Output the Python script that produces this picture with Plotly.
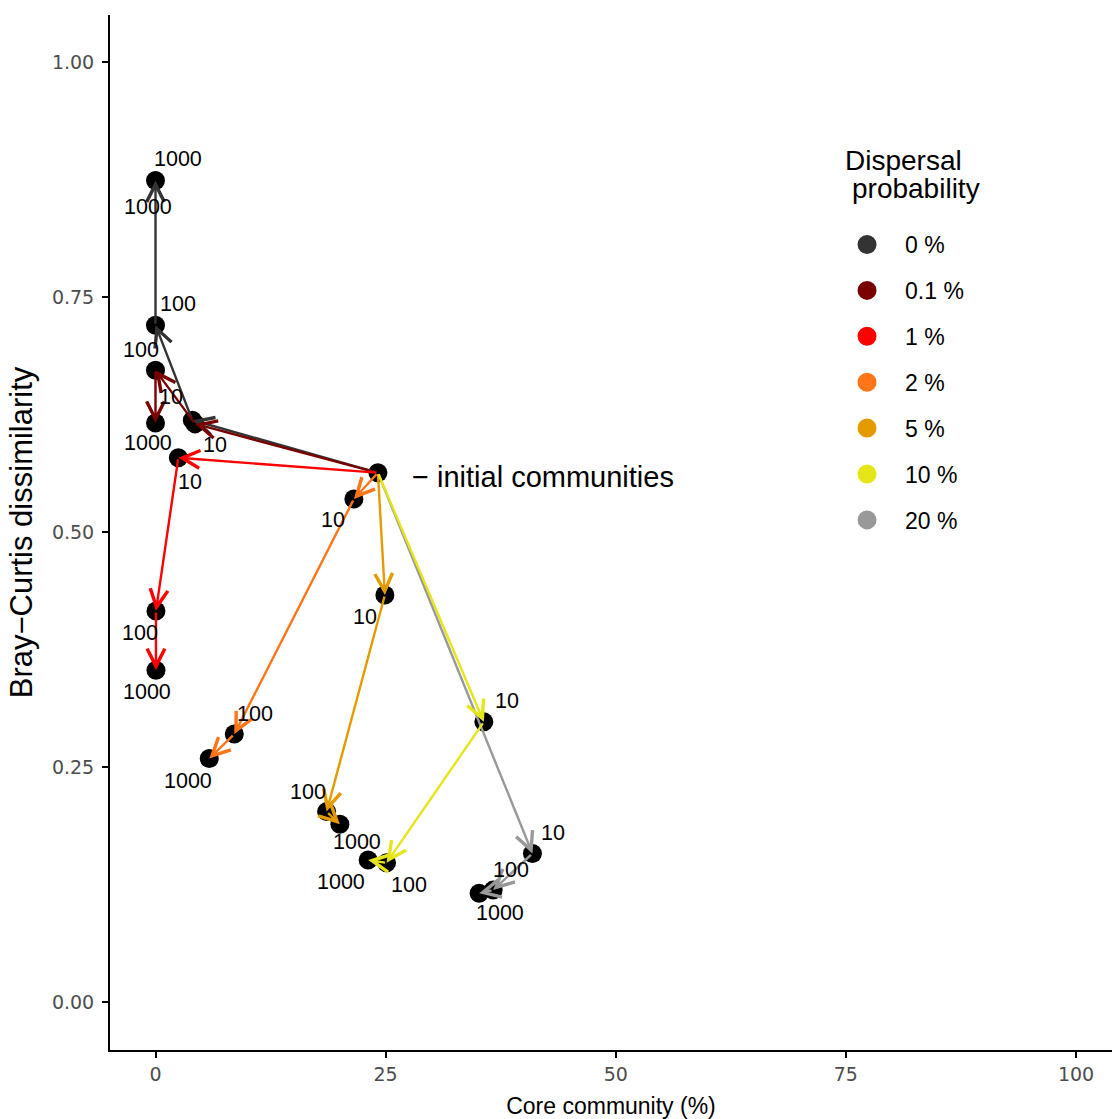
import plotly.graph_objects as go

# ---------------- data ----------------
levels = ["0 %", "0.1 %", "1 %", "2 %", "5 %", "10 %", "20 %"]
colors = ["#333333", "#7A0000", "#FF0000", "#FF7518", "#E39B00", "#E5E519", "#999999"]
times = ["10", "100", "1000"]

initial_core = 24.16
initial_bc = 0.563

core_0 = [4.0, 0.0, 0.0]
bc_0 = [0.619, 0.720, 0.874]
core_01 = [4.3, 0.0, 0.0]
bc_01 = [0.615, 0.672, 0.616]
core_1 = [2.48, 0.05, 0.05]
bc_1 = [0.579, 0.416, 0.353]
core_2 = [21.55, 8.56, 5.84]
bc_2 = [0.535, 0.285, 0.259]
core_5 = [24.92, 18.59, 20.03]
bc_5 = [0.433, 0.2025, 0.189]
core_10 = [35.67, 25.1, 23.1]
bc_10 = [0.298, 0.148, 0.151]
core_20 = [40.95, 36.68, 35.16]
bc_20 = [0.158, 0.119, 0.1156]

x_ticks = [0, 25, 50, 75, 100]
y_ticks = [0.0, 0.25, 0.5, 0.75, 1.0]

series_core = [core_0, core_01, core_1, core_2, core_5, core_10, core_20]
series_bc = [bc_0, bc_01, bc_1, bc_2, bc_5, bc_10, bc_20]

# label pixel offsets (styling only)
label_offsets = [
    [[(-21, -23)], [(22, -21)], [(22, -21), (-8, 27)]],
    [[(20, 21)], [(-15, -20)], [(-8, 20)]],
    [[(12, 24)], [(-16, 22)], [(-9, 22)]],
    [[(-21, 21)], [(21, -20)], [(-21, 22)]],
    [[(-20, 22)], [(-19, -20)], [(17, 18)]],
    [[(23, -21)], [(22, 22)], [(-27, 22)]],
    [[(21, -20)], [(18, -20)], [(21, 20)]],
]
draw_order = [6, 0, 1, 2, 3, 4, 5]

FONT = "Liberation Sans, Arial, Helvetica, sans-serif"
TICKFONT = "DejaVu Sans, Liberation Sans, Arial, sans-serif"

fig = go.Figure()

# black points
px = [initial_core]
py = [initial_bc]
for c, b in zip(series_core, series_bc):
    px += c
    py += b
fig.add_trace(go.Scatter(x=px, y=py, mode="markers",
                         marker=dict(color="black", size=19),
                         showlegend=False, hoverinfo="skip"))

# legend entries
for i, (lev, col) in enumerate(zip(levels, colors)):
    fig.add_trace(go.Scatter(x=[None], y=[None], mode="markers", name=lev,
                             legendgroup=lev,
                             marker=dict(color=col, size=16, line=dict(color=col, width=3)),
                             showlegend=True))

annotations = []
# arrows
for i in draw_order:
    xs = [initial_core] + series_core[i]
    ys = [initial_bc] + series_bc[i]
    for k in range(1, len(xs)):
        annotations.append(dict(
            x=xs[k], y=ys[k], ax=xs[k - 1], ay=ys[k - 1],
            xref="x", yref="y", axref="x", ayref="y",
            text="", showarrow=True, arrowhead=5, arrowsize=1.45,
            arrowwidth=2.4, arrowcolor=colors[i], standoff=0, startstandoff=0,
        ))

# point labels
for i in range(len(levels)):
    for k, t in enumerate(times):
        for dx, dy in label_offsets[i][k]:
            annotations.append(dict(
                x=series_core[i][k], y=series_bc[i][k], xref="x", yref="y",
                text=t, showarrow=False, xshift=dx, yshift=-dy,
                font=dict(family=FONT, size=21.5, color="black"),
            ))

annotations.append(dict(
    x=initial_core, y=initial_bc, xref="x", yref="y",
    text="\u2212 initial communities", showarrow=False,
    xanchor="left", xshift=32, yshift=-4,
    font=dict(family=FONT, size=29, color="black"),
))

# legend title (two lines)
annotations.append(dict(
    x=0.7315, y=0.859, xref="paper", yref="paper", xanchor="left", yanchor="middle",
    text="Dispersal", showarrow=False, font=dict(family=FONT, size=28, color="black"),
))
annotations.append(dict(
    x=0.7385, y=0.8319, xref="paper", yref="paper", xanchor="left", yanchor="middle",
    text="probability", showarrow=False, font=dict(family=FONT, size=28, color="black"),
))

fig.update_layout(
    width=1112, height=1119,
    margin=dict(l=110, r=0, t=15, b=69),
    paper_bgcolor="white", plot_bgcolor="white",
    annotations=annotations,
    legend=dict(
        font=dict(family=FONT, size=23, color="black"),
        x=0.7176, xanchor="left", y=0.799, yanchor="top",
        bgcolor="rgba(0,0,0,0)", borderwidth=0,
        tracegroupgap=13, itemwidth=66,
    ),
    xaxis=dict(
        range=[-4.943, 103.91], showgrid=False, zeroline=False,
        showline=True, linecolor="black", linewidth=2,
        ticks="outside", ticklen=6, tickwidth=1.5, tickcolor="black",
        tickvals=x_ticks, ticktext=[str(v) for v in x_ticks],
        tickfont=dict(family=TICKFONT, size=19, color="#4D4D4D"),
        title=dict(text="Core community (%)", font=dict(family=FONT, size=23, color="black"), standoff=14),
    ),
    yaxis=dict(
        range=[-0.0511, 1.05], showgrid=False, zeroline=False,
        showline=True, linecolor="black", linewidth=2,
        ticks="outside", ticklen=6, tickwidth=1.5, tickcolor="black",
        ticklabelstandoff=4,
        tickvals=y_ticks, ticktext=["%.2f" % v for v in y_ticks],
        tickfont=dict(family=TICKFONT, size=19, color="#4D4D4D"),
        title=dict(text="Bray\u2212Curtis dissimilarity", font=dict(family=FONT, size=31, color="black"), standoff=10),
    ),
)

fig.write_html(
    "out.html",
    config={"displayModeBar": False},
    post_script="document.body.style.margin='0';"
                "document.documentElement.style.overflow='hidden';"
                "document.body.style.overflow='hidden';",
)
